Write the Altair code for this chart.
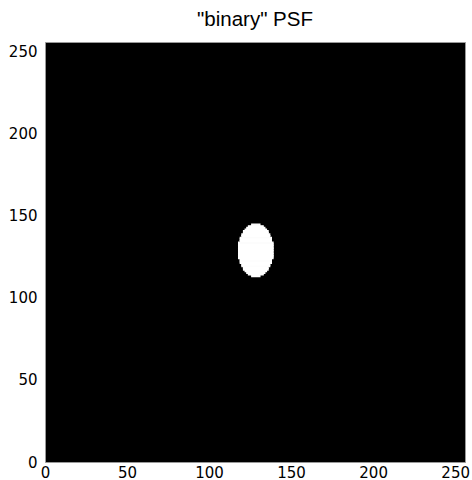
import altair as alt
import pandas as pd

# White pixel spans of the "binary" PSF image (256 x 256), one entry per image row
rows = list(range(113, 145))
x_start = [126, 124, 123, 122, 121, 121, 120, 120, 119, 119, 119, 118, 118, 118, 118, 118,
           118, 118, 118, 118, 118, 119, 119, 119, 120, 120, 121, 121, 122, 123, 124, 126]
x_end = [131, 133, 134, 135, 136, 136, 137, 137, 138, 138, 138, 139, 139, 139, 139, 139,
         139, 139, 139, 139, 139, 138, 138, 138, 137, 137, 136, 136, 135, 134, 133, 131]

image_size = 256
tick_values = [0, 50, 100, 150, 200, 250]

df = pd.DataFrame({
    "row": rows,
    "row_end": [r + 1 for r in rows],
    "x0": x_start,
    "x1": x_end,
})

xscale = alt.Scale(domain=[0, image_size], nice=False, zero=False)
yscale = alt.Scale(domain=[0, image_size], nice=False, zero=False)

chart = alt.Chart(df).mark_rect(color="white", stroke="white", strokeWidth=1.2).encode(
    x=alt.X("x0:Q", scale=xscale, title=None,
            axis=alt.Axis(values=tick_values, labelFlush=False, ticks=False,
                          domain=False, grid=False, labelPadding=3)),
    x2="x1:Q",
    y=alt.Y("row:Q", scale=yscale, title=None,
            axis=alt.Axis(values=tick_values, labelFlush=False, ticks=False,
                          domain=False, grid=False, labelPadding=8)),
    y2="row_end:Q",
).properties(
    width=420,
    height=420,
    background="white",
    title='"binary" PSF',
    autosize=alt.AutoSizeParams(type="none"),
    padding={"left": 45, "top": 42, "right": 7, "bottom": 18},
).configure_view(
    fill="black", stroke="#999999", strokeWidth=1
).configure_axis(
    labelFont="DejaVu Sans", labelFontSize=15, labelColor="black"
).configure_title(
    font="Liberation Sans", fontSize=20.5, fontWeight="normal", color="black",
    offset=12, anchor="middle"
)

chart.save("out.html", embed_options={"renderer": "svg", "actions": False})
